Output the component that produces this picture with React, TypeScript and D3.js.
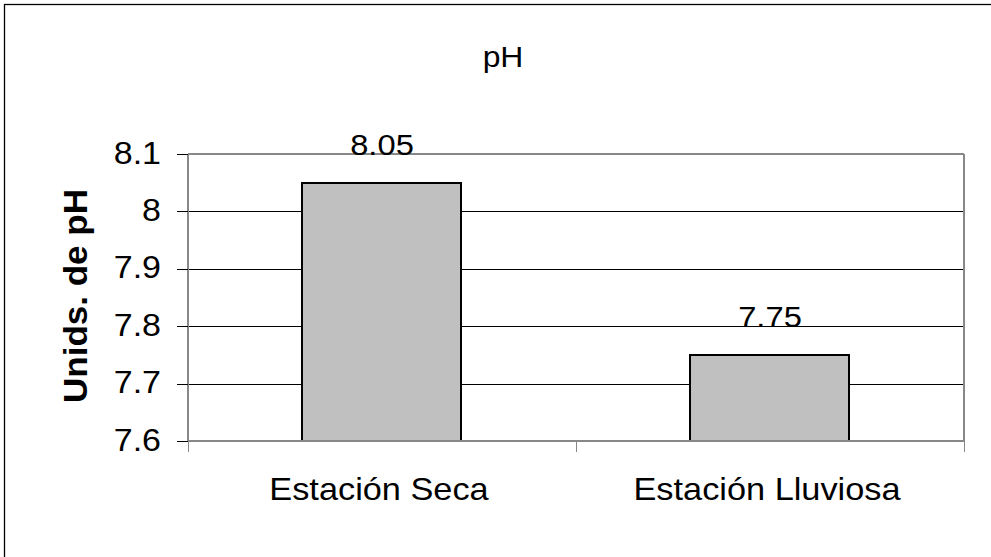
import React from "react";
import * as d3 from "d3";

// pH by season
const categories = ["Estación Seca", "Estación Lluviosa"];
const values = [8.05, 7.75];
const valueLabels = ["8.05", "7.75"];
const yTicks = [7.6, 7.7, 7.8, 7.9, 8, 8.1];
const yTickLabels = ["7.6", "7.7", "7.8", "7.9", "8", "8.1"];

const W = 991;
const H = 557;
const plot = { left: 188, right: 964, top: 154, bottom: 441 };
const FONT = "'Liberation Sans', Arial, Helvetica, sans-serif";

export default function App() {
  const x = d3
    .scaleBand<string>()
    .domain(categories)
    .range([plot.left, plot.right])
    .paddingInner(0.59)
    .paddingOuter(0.295);
  const y = d3.scaleLinear().domain([7.6, 8.1]).range([plot.bottom, plot.top]);
  const step = (plot.right - plot.left) / categories.length;
  const catTicks = d3.range(categories.length + 1).map((i) => plot.left + i * step);
  const crisp = (v: number) => Math.round(v) + 0.5;

  return (
    <div style={{ position: "absolute", left: 0, top: 0 }}>
      <svg width={W} height={H} style={{ display: "block", background: "#fff" }}>
        {/* outer chart frame */}
        <rect x={4.5} y={4.5} width={1100} height={700} fill="none" stroke="#000" strokeWidth={1.3} />

        {/* title */}
        <text
          transform={`translate(503,66.5) scale(1.08,1)`}
          textAnchor="middle"
          fontFamily={FONT}
          fontSize={29.5}
          fill="#000"
        >
          pH
        </text>

        {/* gridlines */}
        {yTicks.slice(1, -1).map((t) => (
          <line
            key={t}
            x1={plot.left}
            x2={plot.right}
            y1={crisp(y(t))}
            y2={crisp(y(t))}
            stroke="#000"
            strokeWidth={1}
          />
        ))}

        {/* plot frame */}
        <line x1={plot.left} x2={plot.right} y1={plot.top} y2={plot.top} stroke="#888" strokeWidth={2} />
        <line x1={plot.right} x2={plot.right} y1={plot.top} y2={plot.bottom} stroke="#888" strokeWidth={2} />

        {/* bars */}
        {categories.map((c, i) => (
          <rect
            key={c}
            x={Math.round(x(c)!)}
            y={Math.round(y(values[i]))}
            width={Math.round(x.bandwidth())}
            height={plot.bottom - Math.round(y(values[i]))}
            fill="#C0C0C0"
            stroke="#000"
            strokeWidth={2}
          />
        ))}

        {/* y axis */}
        <line x1={plot.left} x2={plot.left} y1={plot.top} y2={plot.bottom} stroke="#888" strokeWidth={2} />
        {yTicks.map((t, i) => (
          <g key={t}>
            <line x1={177} x2={plot.left} y1={crisp(y(t))} y2={crisp(y(t))} stroke="#000" strokeWidth={1} />
            <text
              transform={`translate(161,${y(t) + 9.5}) scale(1.08,1)`}
              textAnchor="end"
              fontFamily={FONT}
              fontSize={31.5}
              fill="#000"
            >
              {yTickLabels[i]}
            </text>
          </g>
        ))}

        {/* x axis */}
        <line x1={plot.left} x2={plot.right} y1={plot.bottom} y2={plot.bottom} stroke="#888" strokeWidth={2} />
        {catTicks.map((tx, i) => (
          <line key={i} x1={crisp(tx)} x2={crisp(tx)} y1={plot.bottom} y2={452} stroke="#888" strokeWidth={1} />
        ))}
        {categories.map((c) => (
          <text
            key={c}
            transform={`translate(${x(c)! + x.bandwidth() / 2 - 3},499.5) scale(1.09,1)`}
            textAnchor="middle"
            fontFamily={FONT}
            fontSize={31.5}
            fill="#000"
          >
            {c}
          </text>
        ))}

        {/* value labels */}
        {categories.map((c, i) => (
          <text
            key={c}
            transform={`translate(${x(c)! + x.bandwidth() / 2},${y(values[i]) - 27.5}) scale(1.09,1)`}
            textAnchor="middle"
            fontFamily={FONT}
            fontSize={30}
            fill="#000"
          >
            {valueLabels[i]}
          </text>
        ))}

        {/* y axis title */}
        <text
          transform={`translate(87,296) rotate(-90) scale(1.03,1)`}
          textAnchor="middle"
          fontFamily={FONT}
          fontSize={34}
          fontWeight="bold"
          fill="#000"
        >
          Unids. de pH
        </text>
      </svg>
    </div>
  );
}
